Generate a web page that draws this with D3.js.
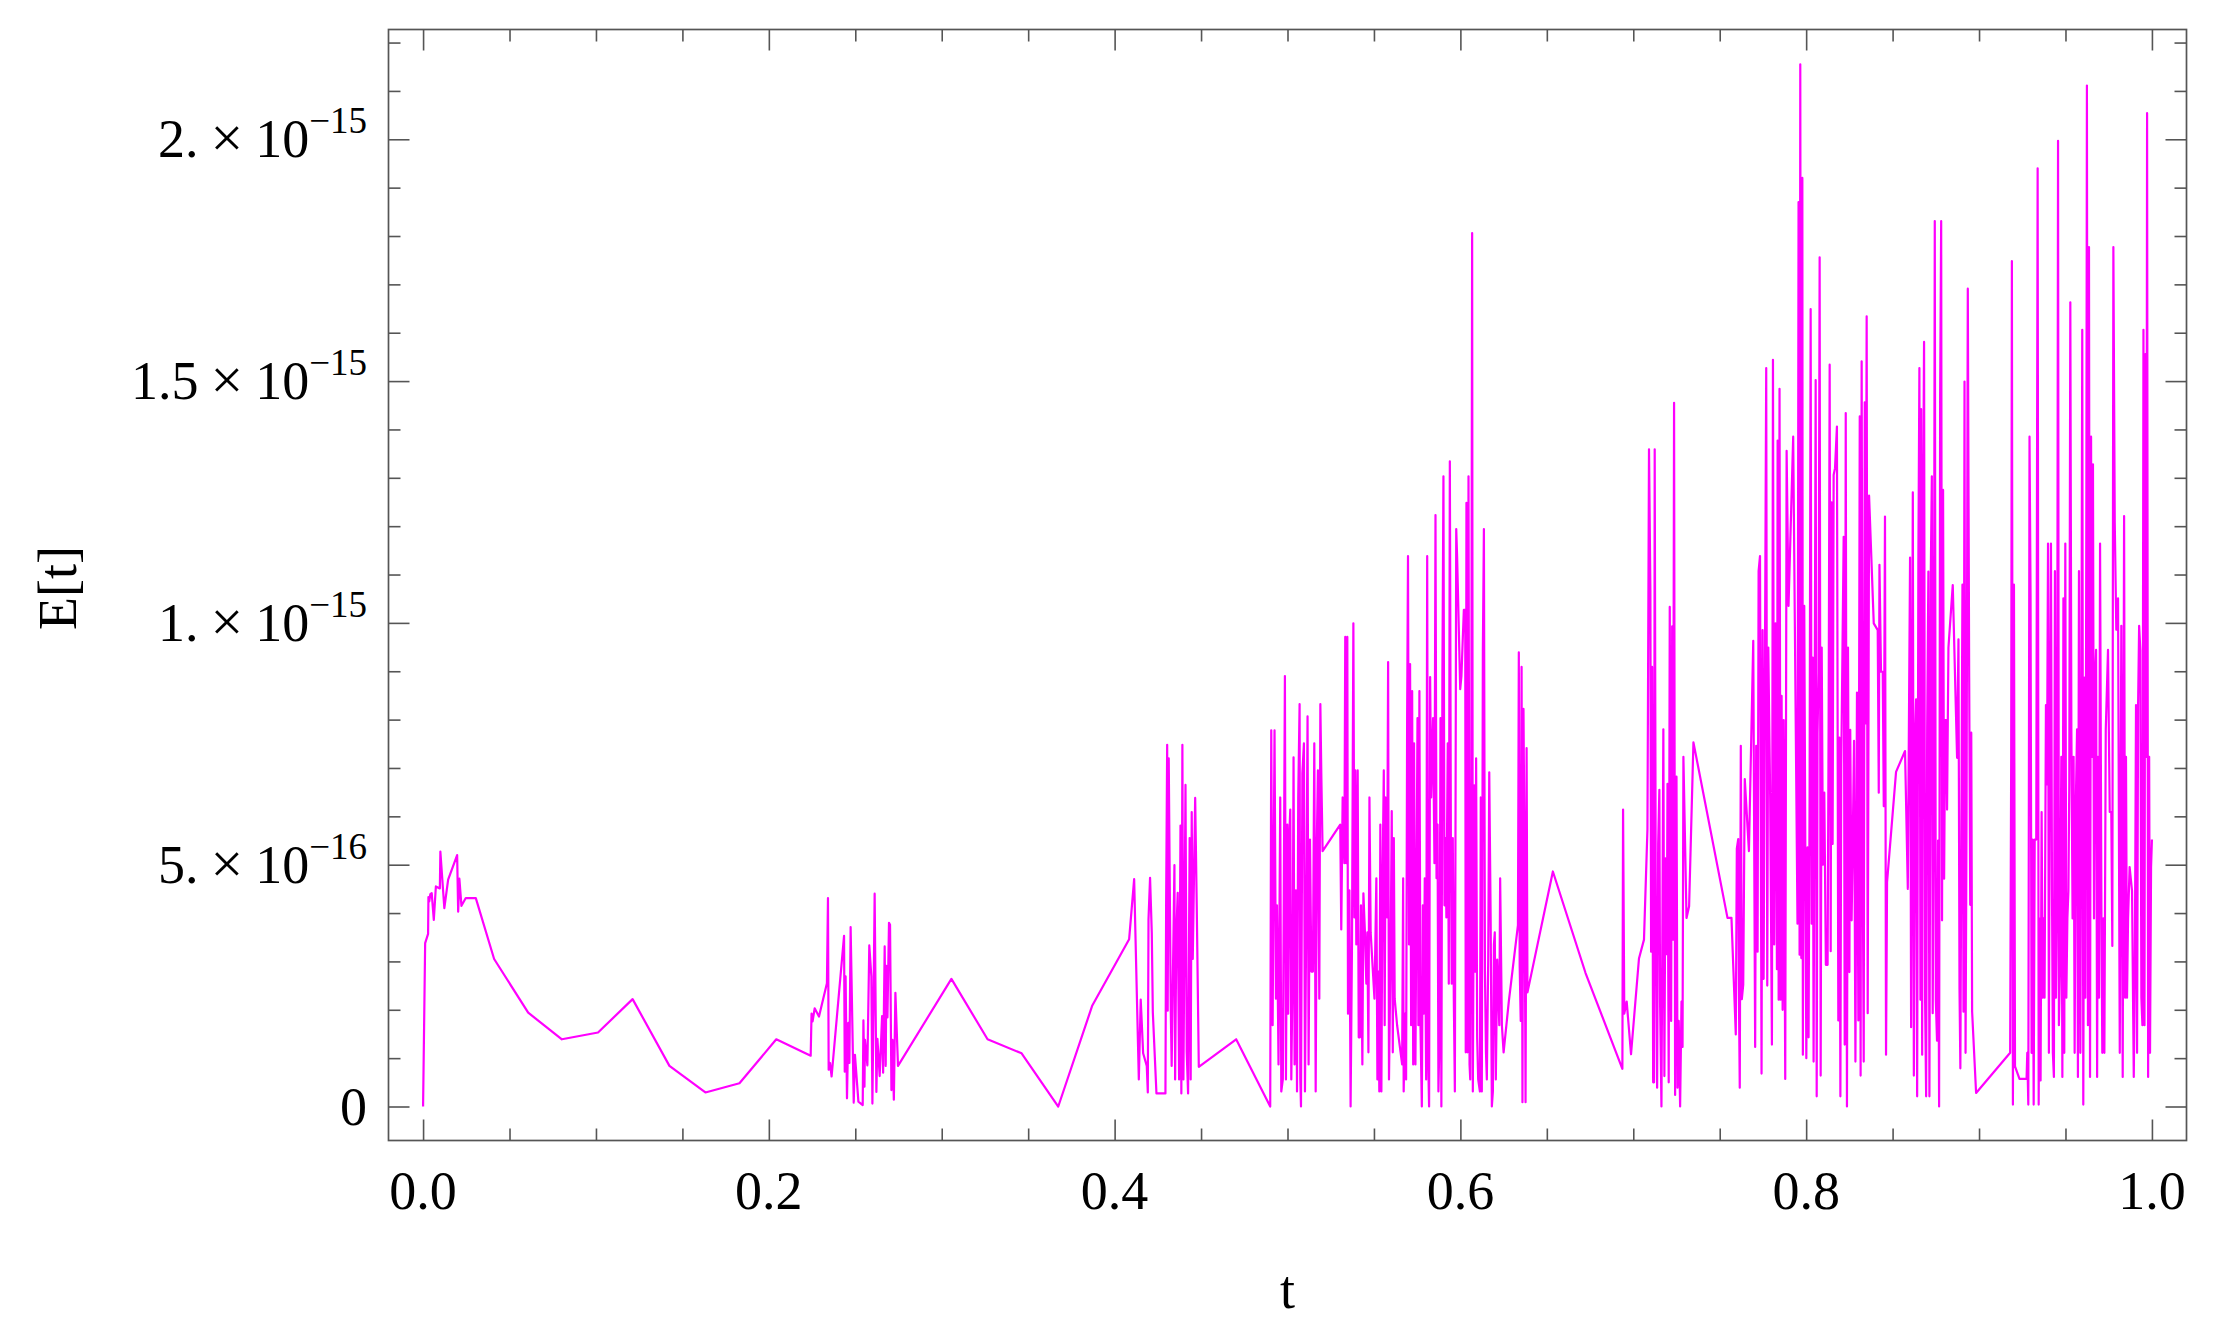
<!DOCTYPE html>
<html><head><meta charset="utf-8">
<script src="https://cdn.jsdelivr.net/npm/d3@7"></script>
<style>
body{margin:0;background:#fff}
svg{display:block}
text{font-family:"Liberation Serif","Times New Roman",serif;fill:#000}
</style>
</head><body>
<svg id="chart" width="2235" height="1332"></svg>
<script>
// ---- data: [t, E in units of 1e-16] ----
const eUnit = 1e-16;
const segmentA = [[0,0],[0.0012,3.38],[0.0029,3.57],[0.0031,4.33],[0.0036,4.24],[0.0042,4.39],[0.0050,4.41],[0.0062,3.86],[0.0074,4.55],[0.0097,4.51],[0.0100,5.27],[0.0123,4.10],[0.0145,4.69],[0.0197,5.20],[0.0203,4.03],[0.0210,4.71],[0.0222,4.15],[0.0247,4.31],[0.0305,4.31],[0.0411,3.05],[0.0608,1.94],[0.0803,1.39],[0.1012,1.53],[0.1212,2.22],[0.1425,0.84],[0.1633,0.29],[0.1830,0.48],[0.2043,1.39],[0.2242,1.05],[0.2247,1.92],[0.2253,1.76],[0.2265,2.03],[0.2290,1.86],[0.2336,2.55],[0.2342,4.31],[0.2346,0.76],[0.2354,0.90],[0.2363,0.62],[0.2435,3.53],[0.2439,0.72],[0.2444,2.69],[0.2452,0.17],[0.2460,1.73],[0.2466,0.90],[0.2473,3.71],[0.2491,0.08],[0.2498,1.07],[0.2518,0.10],[0.2543,0.03],[0.2547,1.78],[0.2553,0.41],[0.2556,1.38],[0.2570,0.85],[0.2581,3.33],[0.2593,2.69],[0.2599,0.06],[0.2605,2.00],[0.2612,4.40],[0.2622,0.30],[0.2628,1.40]];
const segmentB = [[0.2641,0.63],[0.2655,1.87],[0.2661,0.70],[0.2670,3.31],[0.2676,0.84],[0.2680,2.91],[0.2686,1.84],[0.2695,3.80],[0.2701,3.76],[0.2709,0.34],[0.2715,1.38],[0.2723,0.14],[0.2732,2.35],[0.2747,0.84],[0.3056,2.64],[0.3265,1.39],[0.3462,1.10],[0.3674,0],[0.3871,2.09],[0.4084,3.46],[0.4113,4.70],[0.4140,0.56],[0.4151,2.21],[0.4165,1.10],[0.4186,0.84],[0.4192,0.29],[0.4196,3.87],[0.4205,4.73],[0.4215,3.59],[0.4221,1.95],[0.4242,0.27],[0.4294,0.27],[0.4298,4.16],[0.4304,7.48],[0.4307,1.98],[0.4313,7.20],[0.4325,1.95],[0.4330,0.84],[0.4346,4.99],[0.4350,0.56],[0.4357,3.59],[0.4365,4.42],[0.4373,0.56],[0.4381,5.81],[0.4386,0.27],[0.4392,7.48],[0.4398,0.56],[0.4410,6.65],[0.4417,1.13],[0.4425,0.27],[0.4434,5.55],[0.4440,0.56],[0.4446,6.09],[0.4452,3.05],[0.4466,6.38],[0.4475,4.16],[0.4487,0.82],[0.4703,1.39],[0.4900,0]];
const segmentC = [[0.4906,7.78],[0.4914,1.68],[0.4920,5.03],[0.4925,7.78],[0.4933,2.23],[0.4939,4.16],[0.4948,0.87],[0.4958,6.39],[0.4964,0.31],[0.4973,0.56],[0.4985,8.90],[0.4991,0.56],[0.4999,5.83],[0.5004,1.92],[0.5010,5.55],[0.5016,6.14],[0.5022,0.56],[0.5030,3.04],[0.5035,7.22],[0.5041,0.87],[0.5049,4.47],[0.5055,0.31],[0.5062,6.39],[0.5070,8.32],[0.5074,0.56],[0.5078,0],[0.5086,6.89],[0.5095,7.51],[0.5101,0.31],[0.5109,4.16],[0.5116,8.07],[0.5122,0.87],[0.5130,5.52],[0.5138,2.79],[0.5147,2.79],[0.5155,7.51],[0.5163,0.31],[0.5170,5.55],[0.5176,6.95],[0.5184,2.23],[0.5190,8.32],[0.5196,6.77],[0.5203,5.28],[0.5305,5.83],[0.5311,3.66],[0.5319,6.39],[0.5329,5.03],[0.5334,9.71],[0.5340,5.03],[0.5346,9.71],[0.5350,1.92],[0.5358,4.47],[0.5365,0],[0.5373,3.35],[0.5381,9.99],[0.5387,3.91],[0.5392,6.95],[0.5398,3.35],[0.5406,6.95],[0.5412,1.43],[0.5419,1.43],[0.5425,4.16],[0.5433,0.87],[0.5439,4.41],[0.5448,3.60],[0.5456,2.54],[0.5462,3.60],[0.5468,1.12],[0.5474,6.39],[0.5481,3.60],[0.5503,2.23],[0.5514,4.72],[0.5520,0.56],[0.5526,2.79],[0.5531,0.31],[0.5537,5.83],[0.5543,0.31],[0.5549,4.47],[0.5557,6.95],[0.5562,1.68],[0.5568,6.39],[0.5576,3.91],[0.5582,9.19],[0.5587,0.56],[0.5597,3.35],[0.5603,6.11],[0.5609,1.12],[0.5615,5.55],[0.5620,2.23],[0.5634,1.68],[0.5663,0.87],[0.5669,4.72],[0.5672,0.31],[0.5680,1.92],[0.5686,0.56],[0.5692,8.03],[0.5697,11.38],[0.5703,3.35],[0.5709,9.15],[0.5715,1.68],[0.5721,8.59],[0.5727,0.87],[0.5732,7.51],[0.5740,0.87],[0.5746,4.47],[0.5752,8.03],[0.5757,1.68],[0.5763,8.59],[0.5769,1.68],[0.5777,0],[0.5783,4.16],[0.5788,1.92],[0.5794,4.72],[0.5802,0.56],[0.5808,11.38],[0.5813,1.12],[0.5819,0],[0.5825,8.88],[0.5831,6.39],[0.5842,8.03],[0.5850,5.03],[0.5856,12.23],[0.5862,4.72],[0.5868,5.83],[0.5873,0.31],[0.5879,1.43],[0.5885,8.03],[0.5890,0],[0.5896,8.90],[0.5902,13.03],[0.5908,4.16],[0.5914,5.55],[0.5919,3.91],[0.5927,7.51],[0.5933,2.54],[0.5939,13.34],[0.5945,5.55],[0.5950,2.54],[0.5956,5.55],[0.5962,2.23],[0.5968,0.31],[0.5976,11.94],[0.5981,11.38],[0.5999,8.63],[0.6006,8.90],[0.6020,10.27],[0.6028,10.27],[0.6031,1.12],[0.6035,12.48],[0.6041,1.12],[0.6047,13.03],[0.6053,0.87],[0.6057,0.56],[0.6062,4.41],[0.6068,18.06],[0.6072,0.31],[0.6080,6.64],[0.6086,2.79],[0.6091,7.20],[0.6097,1.43],[0.6103,0.56],[0.6113,0.31],[0.6118,6.39],[0.6124,0.31],[0.6130,9.43],[0.6136,11.94],[0.6142,2.79],[0.6148,1.12],[0.6153,0.56],[0.6161,3.04],[0.6167,6.91],[0.6175,3.91],[0.6182,0],[0.6188,0.31],[0.6194,3.35],[0.6199,3.60],[0.6205,0.56],[0.6213,3.04],[0.6225,1.68],[0.6230,4.72],[0.6240,1.68],[0.6250,1.12]];
const segmentD = [[0.6280,2.17],[0.6333,3.75],[0.6338,9.39],[0.6343,2.91],[0.6349,1.77],[0.6354,9.09],[0.6359,0.09],[0.6365,8.22],[0.6371,5.13],[0.6377,0.09],[0.6383,7.41],[0.6388,2.36],[0.6535,4.86],[0.6724,2.76],[0.6937,0.78],[0.6941,6.14],[0.6948,1.92],[0.6962,2.17],[0.6987,1.08],[0.7033,3.06],[0.7062,3.45],[0.7082,5.73],[0.7091,13.59],[0.7099,10.67],[0.7103,3.20],[0.7109,9.09],[0.7115,0.50],[0.7120,0.50],[0.7124,13.59],[0.7130,4.14],[0.7138,0.39],[0.7144,5.43],[0.7151,6.55],[0.7155,2.17],[0.7163,0],[0.7169,4.10],[0.7174,7.80],[0.7180,0.63],[0.7186,5.13],[0.7194,3.15],[0.7198,6.67],[0.7205,0.50],[0.7211,10.33],[0.7219,1.77],[0.7225,9.93],[0.7230,3.45],[0.7236,14.55],[0.7242,0.24],[0.7250,6.82],[0.7256,0.39],[0.7263,1.77],[0.7271,0],[0.7279,2.17],[0.7285,1.23],[0.7290,7.23],[0.7308,3.90],[0.7323,4.14],[0.7348,7.53],[0.7545,3.90],[0.7568,3.90],[0.7593,1.49],[0.7599,5.33],[0.7607,5.53],[0.7612,1.92],[0.7616,0.39],[0.7622,7.46],[0.7628,2.22],[0.7636,2.52],[0.7645,6.77],[0.7669,5.28],[0.7694,9.63],[0.7705,1.23],[0.7711,7.46],[0.7719,3.20],[0.7725,11.07],[0.7733,11.38],[0.7742,0.68]];
const segmentE = [[0.7748,9.85],[0.7754,2.64],[0.7760,7.79],[0.7769,15.27],[0.7775,2.50],[0.7781,9.49],[0.7792,6.35],[0.7802,1.28],[0.7808,15.44],[0.7815,3.35],[0.7823,9.99],[0.7831,2.84],[0.7835,13.77],[0.7841,2.21],[0.7846,14.84],[0.7852,2.21],[0.7858,8.49],[0.7864,2.00],[0.7870,7.99],[0.7879,0.57],[0.7887,13.56],[0.7898,10.35],[0.7925,13.85],[0.7950,3.78],[0.7956,18.70],[0.7962,3.14],[0.7966,21.55],[0.7972,3.07],[0.7978,19.20],[0.7981,1.07],[0.7989,10.35],[0.7995,5.43],[0.8001,1.00],[0.8008,5.36],[0.8014,1.43],[0.8020,6.49],[0.8026,16.49],[0.8032,3.78],[0.8038,9.28],[0.8043,0.93],[0.8049,7.79],[0.8055,15.02],[0.8061,0.21],[0.8066,7.72],[0.8072,8.99],[0.8078,17.56],[0.8084,0.64],[0.8090,9.49],[0.8097,5.00],[0.8105,6.49],[0.8114,2.93],[0.8124,2.93],[0.8130,7.92],[0.8136,15.34],[0.8142,3.21],[0.8147,12.49],[0.8153,5.43],[0.8159,13.06],[0.8167,13.20],[0.8178,14.06],[0.8186,1.78],[0.8192,7.63],[0.8198,0.21],[0.8203,7.06],[0.8217,11.78],[0.8223,1.28],[0.8229,14.34],[0.8236,0],[0.8242,9.49],[0.8250,2.78],[0.8255,7.79],[0.8263,3.85],[0.8269,5.36],[0.8277,7.56],[0.8285,0.93],[0.8294,8.56],[0.8302,1.78],[0.8310,14.27],[0.8315,0.64],[0.8321,15.41],[0.8327,5.21],[0.8333,0.93],[0.8339,14.56],[0.8344,7.92],[0.8350,16.34],[0.8356,1.93],[0.8364,12.63],[0.8391,9.99],[0.8414,9.85],[0.8420,6.49],[0.8424,11.20],[0.8433,8.99],[0.8443,8.99],[0.8449,6.21],[0.8456,12.20],[0.8462,1.07],[0.8468,4.64],[0.8520,6.92],[0.8572,7.35],[0.8588,4.50],[0.8601,11.35],[0.8607,1.64],[0.8617,12.70],[0.8623,0.64],[0.8630,7.64],[0.8636,8.42],[0.8642,0.21],[0.8649,11.20],[0.8655,15.27],[0.8661,2.21],[0.8665,14.42],[0.8671,1.07],[0.8677,12.70],[0.8682,15.81],[0.8688,2.21],[0.8694,0.21],[0.8700,7.79],[0.8707,11.06],[0.8713,0.21],[0.8721,11.06],[0.8727,13.03],[0.8732,1.93],[0.8738,6.14],[0.8744,18.31],[0.8750,2.21],[0.8757,1.36],[0.8763,5.50],[0.8769,0],[0.8775,14.70],[0.8781,18.31],[0.8786,3.85],[0.8792,12.75],[0.8798,4.71],[0.8804,7.99],[0.8810,7.99],[0.8815,6.14],[0.8823,9.49],[0.8848,10.78],[0.8873,7.21],[0.8881,9.66],[0.8887,2.43],[0.8892,0.79]];
const segmentF = [[0.8904,10.79],[0.8910,1.96],[0.8916,14.99],[0.8922,1.11],[0.8928,6.21],[0.8935,16.91],[0.8943,8.87],[0.8949,4.17],[0.8955,7.73],[0.8960,1.96],[0.8983,0.28],[0.9180,1.11],[0.9186,7.23],[0.9190,17.48],[0.9196,0.04],[0.9202,10.79],[0.9208,0.83],[0.9234,0.57],[0.9275,0.57],[0.9279,1.11],[0.9285,0.04],[0.9292,13.85],[0.9298,10.53],[0.9304,1.11],[0.9310,5.52],[0.9316,0.04],[0.9322,5.52],[0.9331,5.52],[0.9339,19.40],[0.9345,0.04],[0.9350,3.89],[0.9356,0.54],[0.9362,6.09],[0.9368,2.25],[0.9374,3.89],[0.9379,2.25],[0.9387,8.30],[0.9393,6.66],[0.9399,11.64],[0.9404,1.11],[0.9410,7.80],[0.9416,11.64],[0.9422,4.46],[0.9427,1.11],[0.9433,0.61],[0.9439,11.07],[0.9445,2.25],[0.9451,4.46],[0.9457,19.97],[0.9462,1.68],[0.9468,2.82],[0.9476,7.23],[0.9482,0.61],[0.9488,10.51],[0.9493,1.11],[0.9499,11.64],[0.9505,2.25],[0.9511,3.89],[0.9517,4.46],[0.9522,6.66],[0.9528,16.63],[0.9534,7.80],[0.9541,3.89],[0.9547,7.23],[0.9553,1.11],[0.9559,6.09],[0.9567,7.80],[0.9572,0.61],[0.9578,11.07],[0.9586,1.11],[0.9592,7.80],[0.9597,16.06],[0.9603,0.04],[0.9609,8.87],[0.9615,2.25],[0.9621,12.78],[0.9624,21.11],[0.9630,1.68],[0.9636,17.77],[0.9642,0.61],[0.9648,13.85],[0.9653,7.23],[0.9659,13.28],[0.9665,3.89],[0.9671,8.87],[0.9677,9.44],[0.9683,0.61],[0.9688,7.23],[0.9694,2.25],[0.9700,11.64],[0.9708,3.89],[0.9713,1.11],[0.9719,3.89],[0.9725,1.11],[0.9733,7.80],[0.9746,9.44],[0.9756,6.09],[0.9765,6.09],[0.9771,3.32],[0.9777,17.77],[0.9785,12.07],[0.9794,9.86],[0.9804,10.51],[0.9814,1.11],[0.9823,9.94],[0.9831,0.61],[0.9839,12.21],[0.9845,2.25],[0.9850,7.23],[0.9856,2.25],[0.9862,3.89],[0.9871,4.95],[0.9885,4.46],[0.9895,0.61],[0.9901,2.82],[0.9908,8.30],[0.9914,1.11],[0.9920,8.30],[0.9926,9.94],[0.9933,9.44],[0.9939,2.25],[0.9945,1.68],[0.9951,16.06],[0.9957,1.68],[0.9962,15.56],[0.9968,7.23],[0.9972,20.54],[0.9978,0.61],[0.9984,7.23],[0.9989,1.11],[0.9995,4.95],[1.0000,5.52]];

const xTickValues = [0, 0.2, 0.4, 0.6, 0.8, 1.0];
const xTickLabels = ["0.0", "0.2", "0.4", "0.6", "0.8", "1.0"];
const yTickValues = [0, 5e-16, 1e-15, 1.5e-15, 2e-15];
const yTickMantissas = ["0", "5.", "1.", "1.5", "2."];
const yTickExponents = ["", "\u221216", "\u221215", "\u221215", "\u221215"];
const xTitle = "t";
const yTitle = "E[t]";

// ---- layout ----
const frame = {left: 388.5, right: 2186.5, top: 29.5, bottom: 1140.5};
const lineColor = "#ff00ff";
const frameColor = "#555555";

const series = [].concat(segmentA, segmentB, segmentC, segmentD, segmentE, segmentF)
  .map(d => ({t: d[0], e: d[1] * eUnit}));

const x = d3.scaleLinear().domain([-0.02, 1.02]).range([frame.left, frame.right]);
const y = d3.scaleLinear().domain([-0.703e-16, 22.27e-16]).range([frame.bottom, frame.top]);

const svg = d3.select("#chart");
svg.append("rect").attr("width", 2235).attr("height", 1332).attr("fill", "#fff");

svg.append("clipPath").attr("id", "clip").append("rect")
  .attr("x", frame.left).attr("y", frame.top)
  .attr("width", frame.right - frame.left).attr("height", frame.bottom - frame.top);

// data line
svg.append("path")
  .datum(series)
  .attr("clip-path", "url(#clip)")
  .attr("fill", "none")
  .attr("stroke", lineColor)
  .attr("stroke-width", 2.2)
  .attr("stroke-linejoin", "round")
  .attr("d", d3.line().x(d => x(d.t)).y(d => y(d.e)));

// ticks
const xMinor = d3.range(1, 20).map(i => i * 0.05).filter(v => Math.abs(v / 0.2 - Math.round(v / 0.2)) > 1e-6);
const yMinor = d3.range(1, 23).filter(i => i % 5 !== 0).map(i => i * 1e-16);
const majorLen = 21, minorLen = 12;

function drawAxis(gen, transform, values, len) {
  const g = svg.append("g").attr("transform", transform)
    .call(gen.tickValues(values).tickSizeInner(len).tickSizeOuter(0).tickFormat(""));
  g.select(".domain").remove();
  g.selectAll(".tick line").attr("stroke", frameColor).attr("stroke-width", 1.6);
  g.selectAll(".tick text").remove();
  return g;
}
drawAxis(d3.axisBottom(x), `translate(0,${frame.bottom})`, xTickValues, -majorLen);
drawAxis(d3.axisBottom(x), `translate(0,${frame.bottom})`, xMinor, -minorLen);
drawAxis(d3.axisTop(x), `translate(0,${frame.top})`, xTickValues, -majorLen);
drawAxis(d3.axisTop(x), `translate(0,${frame.top})`, xMinor, -minorLen);
drawAxis(d3.axisLeft(y), `translate(${frame.left},0)`, yTickValues, -majorLen);
drawAxis(d3.axisLeft(y), `translate(${frame.left},0)`, yMinor, -minorLen);
drawAxis(d3.axisRight(y), `translate(${frame.right},0)`, yTickValues, -majorLen);
drawAxis(d3.axisRight(y), `translate(${frame.right},0)`, yMinor, -minorLen);

// frame
svg.append("rect")
  .attr("x", frame.left).attr("y", frame.top)
  .attr("width", frame.right - frame.left).attr("height", frame.bottom - frame.top)
  .attr("fill", "none").attr("stroke", frameColor).attr("stroke-width", 1.7);

// x tick labels
svg.append("g").selectAll("text").data(xTickValues).join("text")
  .attr("x", d => x(d)).attr("y", 1209)
  .attr("text-anchor", "middle").attr("font-size", 54)
  .text((d, i) => xTickLabels[i]);

// y tick labels
const yl = svg.append("g").selectAll("text").data(yTickValues).join("text")
  .attr("x", 367).attr("y", d => y(d) + 18)
  .attr("text-anchor", "end").attr("font-size", 54);
yl.each(function(d, i) {
  const t = d3.select(this);
  if (!yTickExponents[i]) { t.text(yTickMantissas[i]); return; }
  t.append("tspan").text(yTickMantissas[i]);
  t.append("tspan").attr("dx", 12).attr("font-size", 58).text("\u00d7");
  t.append("tspan").attr("dx", 12).text("10");
  t.append("tspan").attr("dy", -24).attr("font-size", 37).text(yTickExponents[i]);
});

// axis titles
svg.append("text").attr("x", (frame.left + frame.right) / 2).attr("y", 1308)
  .attr("text-anchor", "middle").attr("font-size", 54).text(xTitle);
svg.append("text").attr("transform", "translate(76,588) rotate(-90)")
  .attr("text-anchor", "middle").attr("font-size", 54).text(yTitle);
</script>
</body></html>
